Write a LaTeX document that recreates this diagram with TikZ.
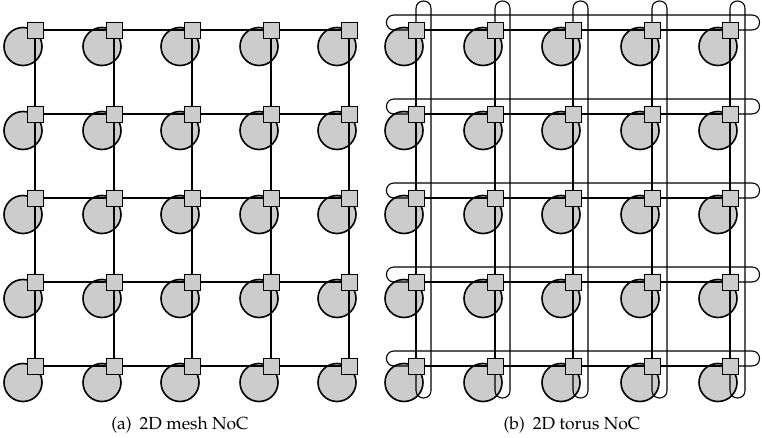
\documentclass[tikz,border=0pt]{standalone}
\usepackage[T1]{fontenc}
\renewcommand{\rmdefault}{ppl}
\pgfdeclarelayer{circ}
\pgfdeclarelayer{wires}
\pgfsetlayers{circ,wires,main}
\tikzset{
  router/.style={draw=black, line width=0.9pt, fill=black!20, minimum size=16pt, inner sep=0pt, outer sep=0pt},
  core/.style={circle, draw=black, line width=1.6pt, fill=black!20, minimum size=38pt, inner sep=0pt},
  wire/.style={line width=1.1pt},
  caption/.style={font=\fontsize{17.5}{20}\selectfont}
}
\begin{document}
\begin{tikzpicture}[x=1pt,y=-1pt]
\useasboundingbox (0,0) rectangle (762,438);
\foreach \p/\ox in {m/35, t/416} {
  \foreach \i in {1,...,5} {
    \foreach \j in {1,...,5} {
      \pgfmathsetmacro\xx{round(\ox+78.5*(\i-1))}
      \pgfmathsetmacro\yy{30+84*(\j-1)}
      \node[router] (\p-\i-\j) at (\xx,\yy) {};
      \begin{pgfonlayer}{circ}
        \node[core] (\p c-\i-\j) at (\xx-12,\yy+16.5) {};
      \end{pgfonlayer}
    }
  }
}
\begin{pgfonlayer}{wires}
\foreach \p in {m,t} {
  \foreach \i in {1,...,5} {
    \foreach \j [evaluate=\j as \k using int(\j+1)] in {1,...,4} {
      \draw[wire] (\p-\i-\j.center) -- (\p-\i-\k.center);
      \draw[wire] (\p-\j-\i.center) -- (\p-\k-\i.center);
    }
  }
}
\foreach \j in {1,...,5} {
  \pgfmathsetmacro\yy{30+84*(\j-1)}
  \draw[wire] (t-1-\j.center) -- (394,\yy) .. controls (384,\yy) and (384,\yy-15) .. (394,\yy-15)
     -- (752,\yy-15) .. controls (762,\yy-15) and (762,\yy) .. (752,\yy) -- (t-5-\j.center);
}
\foreach \i in {1,...,5} {
  \pgfmathsetmacro\xx{round(416+78.5*(\i-1))}
  \draw[wire] (t-\i-1.center) -- (\xx,8.5) .. controls (\xx,-1.5) and (\xx+15,-1.5) .. (\xx+15,8.5)
     -- (\xx+15,390.5) .. controls (\xx+15,400.5) and (\xx,400.5) .. (\xx,390.5) -- (t-\i-5.center);
}
\end{pgfonlayer}
\node[caption] (capa) at (180,425) {(a)\hspace{0.45em}2D mesh NoC};
\node[caption] (capb) at (572,425) {(b)\hspace{0.45em}2D torus NoC};
\end{tikzpicture}
\end{document}
